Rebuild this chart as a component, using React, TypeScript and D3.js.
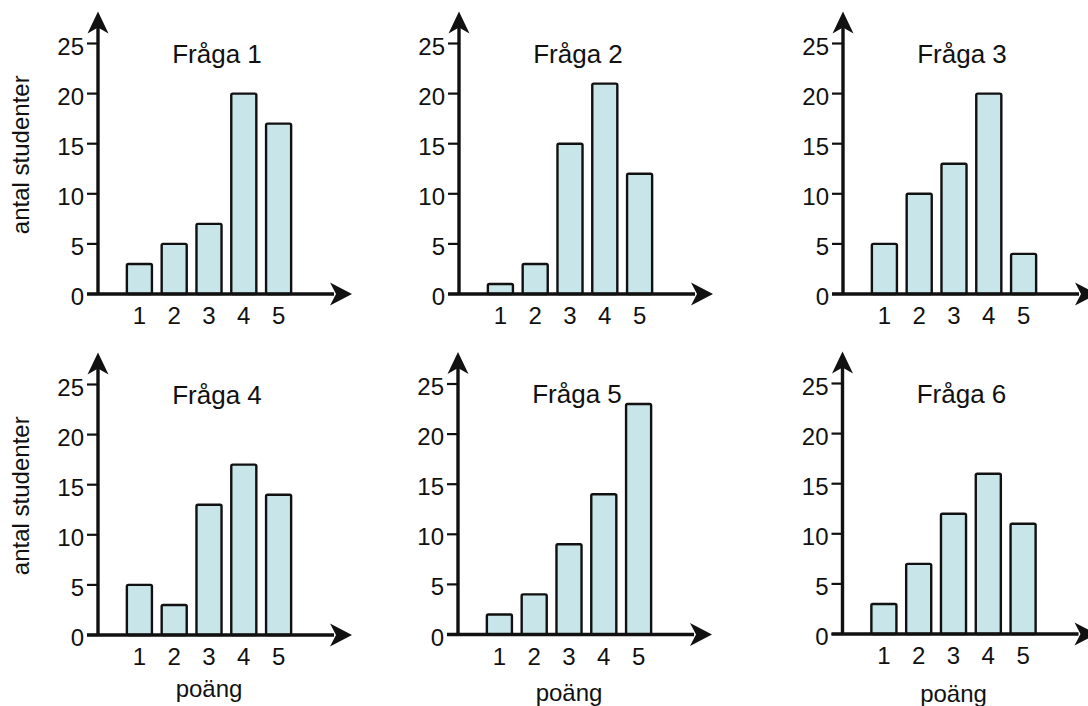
import { useEffect, useRef } from 'react'
import * as d3 from 'd3'

// poäng 1..5, antal studenter per question
const categories = ['1', '2', '3', '4', '5']
const titles = ['Fråga 1', 'Fråga 2', 'Fråga 3', 'Fråga 4', 'Fråga 5', 'Fråga 6']
const q1 = [3, 5, 7, 20, 17]
const q2 = [1, 3, 15, 21, 12]
const q3 = [5, 10, 13, 20, 4]
const q4 = [5, 3, 13, 17, 14]
const q5 = [2, 4, 9, 14, 23]
const q6 = [3, 7, 12, 16, 11]
const yTicks = [0, 5, 10, 15, 20, 25]
const yLabel = 'antal studenter'
const xLabel = 'poäng'

// panel layout: y-axis x, zero line y, offset of the "poäng" label
const panels = [
  { ax: 98, y0: 294, xlab: 0 },
  { ax: 459, y0: 294, xlab: 0 },
  { ax: 843, y0: 294, xlab: 0 },
  { ax: 98, y0: 635, xlab: 62 },
  { ax: 458, y0: 634.5, xlab: 66 },
  { ax: 842.5, y0: 634, xlab: 68 },
]

const FONT = '"Liberation Sans", Arial, Helvetica, sans-serif'
const FILL = '#c8e6e9'
const INK = '#111'

export default function App() {
  const svgRef = useRef<SVGSVGElement>(null)

  useEffect(() => {
    if (!svgRef.current) return
    const svg = d3.select(svgRef.current)
    svg.selectAll('*').remove()

    const series = [q1, q2, q3, q4, q5, q6]

    series.forEach((values, i) => {
      const p = panels[i]
      const g = svg.append('g')

      const y = d3.scaleLinear().domain([0, 25]).range([p.y0, p.y0 - 250.5])
      const x = d3.scaleBand()
        .domain(categories)
        .range([p.ax + 24, p.ax + 198])
        .paddingInner(0.28)
        .paddingOuter(0.14)

      // Bars
      values.forEach((v, j) => {
        g.append('rect')
          .attr('x', x(categories[j])!)
          .attr('y', y(v))
          .attr('width', x.bandwidth())
          .attr('height', y(0) - y(v))
          .attr('fill', FILL)
          .attr('stroke', INK)
          .attr('stroke-width', 2.4)
          .attr('rx', 1.5)
      })

      // Axes
      g.append('line')
        .attr('x1', p.ax).attr('x2', p.ax)
        .attr('y1', y(0)).attr('y2', y(25) - 20)
        .attr('stroke', INK).attr('stroke-width', 3.4)
      g.append('line')
        .attr('x1', p.ax - 11).attr('x2', p.ax + 236)
        .attr('y1', y(0)).attr('y2', y(0))
        .attr('stroke', INK).attr('stroke-width', 3.4)

      // Arrow heads
      const topY = y(25) - 32
      g.append('path')
        .attr('d', `M${p.ax},${topY} L${p.ax + 10.5},${topY + 22} L${p.ax},${topY + 16} L${p.ax - 10.5},${topY + 22} Z`)
        .attr('fill', INK)
      const tipX = p.ax + 254
      g.append('path')
        .attr('d', `M${tipX},${y(0)} L${tipX - 22},${y(0) - 11.5} L${tipX - 16},${y(0)} L${tipX - 22},${y(0) + 11.5} Z`)
        .attr('fill', INK)

      // Y ticks
      yTicks.forEach(t => {
        g.append('line')
          .attr('x1', p.ax - 11).attr('x2', p.ax)
          .attr('y1', y(t)).attr('y2', y(t))
          .attr('stroke', INK).attr('stroke-width', 2.2)
        g.append('text')
          .attr('x', p.ax - 14)
          .attr('y', y(t) + 11)
          .attr('text-anchor', 'end')
          .attr('font-size', '24px')
          .attr('font-family', FONT)
          .attr('fill', INK)
          .text(String(t))
      })

      // X tick labels
      categories.forEach(c => {
        g.append('text')
          .attr('x', x(c)! + x.bandwidth() / 2)
          .attr('y', y(0) + 30)
          .attr('text-anchor', 'middle')
          .attr('font-size', '24px')
          .attr('font-family', FONT)
          .attr('fill', INK)
          .text(c)
      })

      // Title
      g.append('text')
        .attr('x', p.ax + 119)
        .attr('y', y(25) + 19)
        .attr('text-anchor', 'middle')
        .attr('font-size', '26px')
        .attr('font-family', FONT)
        .attr('fill', INK)
        .text(titles[i])

      // Axis titles
      if (i % 3 === 0) {
        g.append('text')
          .attr('transform', `translate(29,${y(12.5) - 14}) rotate(-90)`)
          .attr('text-anchor', 'middle')
          .attr('font-size', '24px')
          .attr('font-family', FONT)
          .attr('fill', INK)
          .text(yLabel)
      }
      if (i >= 3) {
        g.append('text')
          .attr('x', x('3')! + x.bandwidth() / 2)
          .attr('y', y(0) + p.xlab)
          .attr('text-anchor', 'middle')
          .attr('font-size', '24px')
          .attr('font-family', FONT)
          .attr('fill', INK)
          .text(xLabel)
      }
    })
  }, [])

  return (
    <svg
      ref={svgRef}
      width={1088}
      height={706}
      style={{ position: 'absolute', left: 0, top: 0, background: '#fff' }}
    />
  )
}
